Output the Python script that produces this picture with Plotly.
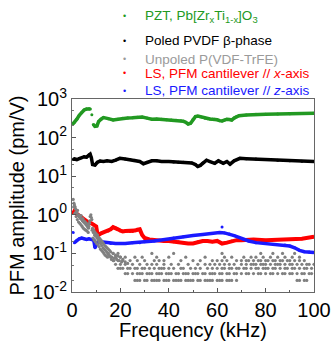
import plotly.graph_objects as go

# ---------------- data ----------------
pzt_f = [0.5, 1, 2, 3, 4, 5, 6, 7, 7.6, None, 8.2, None, 8.8, 9.5, 10.3, 11, 12, 13, 15, 17, 19, 21, 23, 25,
         27, 29, 31, 33, 35, 37, 39, 41, 43, 45, 46, 47, 48, 49, 50, 51, 52, 53, 54, 55, 56, 57, 58, 59,
         60, 61, 62, 63, 64, 65, 66, 67, 68, 69, 72, 76, 80, 85, 90, 95, 100]
pzt_v = [230, 250, 300, 380, 450, 520, 550, 560, 550, None, 390, None, 220, 195, 200, 260, 300, 330, 310, 285, 300, 315, 320, 325,
         335, 340, 320, 300, 305, 300, 290, 285, 280, 275, 265, 250, 225, 235, 300, 350, 360, 345, 330, 316, 310, 305, 300, 300,
         290, 275, 270, 285, 300, 295, 285, 320, 350, 370, 385, 400, 405, 410, 412, 418, 425]

pvdf_f = [0.5, 1, 2, 3, 4, 5, 6, 7, 7.5, 8, 8.5, 9.5, 10.5, 11.6, 13, 14.5, 16.4, 18, 19.8, 22, 24, 26, 28, 29.5,
          31, 33, 35, 37, 40, 42, 44, 46, 48, 49.5, 51, 52, 53, 54, 55.6, 57, 59, 60.5, 62.5, 64, 65.3, 67,
          69.4, 72, 76, 80, 85, 90, 95, 100]
pvdf_v = [27, 28, 27, 29, 30, 32, 31, 36, 37, 30, 20, 19.5, 23, 24.7, 24, 25, 24, 26, 29, 28, 27, 26, 24, 21,
          23, 25, 25, 24, 24, 23.5, 23, 23, 22.5, 22, 20, 17.8, 19, 22, 26, 24, 21.6, 25, 21.6, 24, 20.5, 25,
          29, 28.5, 28, 27, 26, 25, 24.5, 24]

unpoled_f = [0.5, 0.7, 0.8, 1.0, 1.2, 1.3, 1.5, 1.7, 1.8, 2.0, 2.2, 2.3, 2.5, 2.7, 2.8, 3.0, 3.2, 3.3, 3.5, 3.7,
             3.8, 4.0, 4.2, 4.3, 4.5, 4.7, 4.8, 5.0, 5.2, 5.3, 5.5, 5.7, 5.8, 6.0, 6.2, 6.3, 6.5, 6.7, 6.8, 7.0,
             7.2, 7.3, 7.5, 7.8, 8.0, 8.2, 8.3, 8.5, 8.7, 8.8, 9.0, 9.2, 9.3, 9.5, 9.7, 9.8, 10.0, 10.2, 10.3,
             10.5, 10.7, 10.8, 11.0, 11.2, 11.3, 11.5, 11.7, 11.8, 12.0, 12.2, 12.3, 12.5, 12.7, 12.8, 13.0,
             13.2, 13.3, 13.5, 13.7, 13.8, 14.0, 14.2, 14.3, 14.5, 14.7, 14.8, 15.0, 15.3, 15.5, 15.8, 16.0,
             16.3, 16.5, 17.0, 17.3, 17.5, 18.0, 18.5, 19.0, 19.5, 20.0, 20.5, 21.0, 22.0, 23.0]
unpoled_v = [2.5, 1.6, 2.0, 1.8, 1.1, 1.6, 1.4, 0.9, 1.2, 1.1, 0.75, 1.3, 0.95, 0.65, 1.0, 0.9, 0.6, 0.85, 0.8, 0.55,
             0.95, 0.75, 0.5, 0.7, 0.8, 0.45, 0.65, 0.7, 0.42, 0.6, 0.65, 0.4, 0.55, 0.6, 0.38, 0.5, 0.55, 0.35, 0.45,
             0.5, 0.6, 0.7, 0.9, 1.0, 0.85, 0.75, 0.4, 0.45, 0.25, 0.35, 0.4, 0.22, 0.3, 0.35, 0.2, 0.28, 0.32, 0.18,
             0.25, 0.3, 0.17, 0.22, 0.26, 0.15, 0.2, 0.24, 0.13, 0.18, 0.22, 0.12, 0.16, 0.2, 0.11, 0.14,
             0.18, 0.1, 0.13, 0.16, 0.09, 0.12, 0.15, 0.085, 0.11, 0.14, 0.08, 0.1, 0.13, 0.09, 0.12, 0.085,
             0.11, 0.07, 0.08, 0.1, 0.065, 0.075, 0.09, 0.07, 0.085, 0.065, 0.08, 0.06, 0.07, 0.06, 0.055]
# quantised noise-floor levels of the unpoled sample (frequencies where a dot sits on each level)
unpoled_lvl_020 = [26, 27, 28, 30, 31, 33, 34, 35, 36, 38, 39, 40, 42, 43, 44, 45, 47, 48, 49, 50, 52, 53, 55, 56,
                   57, 58, 60, 61, 62, 64, 65, 66, 68, 93, 94, 96, 97]
unpoled_lvl_030 = [22, 23, 25, 27, 28, 29, 31, 32, 33, 35, 36, 37, 39, 40, 41, 43, 44, 46, 47, 48, 50, 51, 52, 54,
                   55, 57, 58, 59, 61, 62, 64, 65, 67, 68, 70, 72, 73, 75, 77, 78, 80, 82, 83, 85, 87, 88, 90, 91,
                   93, 95, 96, 98, 99]
unpoled_lvl_041 = [19, 20, 21, 23, 24, 26, 27, 29, 30, 32, 34, 36, 37, 38, 40, 42, 45, 46, 49, 51, 53, 56, 58, 60,
                   62, 63, 65, 66, 68, 69, 71, 72, 74, 76, 77, 79, 80, 81, 83, 84, 86, 88, 89, 91, 92, 94, 96, 97, 99]
unpoled_lvl_052 = [18, 20, 22, 25, 28, 31, 33, 35, 38, 41, 44, 48, 52, 55, 57, 59, 61, 63, 65, 67, 70, 72, 74, 75,
                   76, 78, 79, 80, 82, 84, 85, 86, 88, 90, 91, 93, 95, 97, 98, 100]
unpoled_lvl_065 = [17, 19, 21, 24, 27, 30, 34, 36, 38, 45, 50, 53, 58, 60, 62, 64, 68, 70, 72, 73, 75, 77, 78, 80,
                   81, 83, 84, 86, 87, 89, 90, 92, 94, 96]
unpoled_lvl_080 = [16, 18, 20, 22, 26, 29, 35, 40, 47, 55, 63, 66, 71, 74, 76, 79, 82, 85, 88, 91, 94]
unpoled_lvl_100 = [15, 17, 19, 33, 42, 62, 78, 83, 87, 92]
unpoled_levels = [(unpoled_lvl_020, 0.020), (unpoled_lvl_030, 0.030), (unpoled_lvl_041, 0.041),
                  (unpoled_lvl_052, 0.052), (unpoled_lvl_065, 0.065), (unpoled_lvl_080, 0.080),
                  (unpoled_lvl_100, 0.100)]

lsx_f = [0.5, 1, 2, 3, 4, 5, 6, 7, 8, 9, 10, 10.5, 11, 12, 13, 14, 15, 16, 17, 18, 19, 20, 21, 22, 23, 24, 25, 26,
         27, 28, 29, 30, 32, 34, 36, 38, 40, 42, 44, 46, 48, 50, 52, 54, 56, 58, 60, 62, 64, 66, 68, 70, 75, 80,
         85, 90, 95, 100]
lsx_v = [1.1, 1.25, 1.05, 0.95, 0.85, 0.75, 0.68, 0.62, 0.6, 0.55, 0.5, 0.32, 0.3, 0.33, 0.35, 0.37, 0.38, 0.42,
         0.48, 0.46, 0.42, 0.39, 0.37, 0.38, 0.38, 0.37, 0.37, 0.39, 0.41, 0.42, 0.3, 0.25, 0.23, 0.22, 0.22, 0.21,
         0.21, 0.2, 0.2, 0.19, 0.18, 0.18, 0.2, 0.21, 0.21, 0.2, 0.21, 0.18, 0.19, 0.21, 0.22, 0.22, 0.23, 0.22,
         0.23, 0.23, 0.24, 0.27]

lsz_f = [0.5, None, 1, 2, 3, 4, 5, 6, 7, 8, 9, 9.5, 10.5, 12, 14, 16, 18, 20, 22, 25, 28, 30, 34, 38, 42, 46, 50, 54,
         58, 61, 63, 65, 67, 69, 71, 73, 76, 80, 84, 88, 90, 92, 94, 96, 98, 100, None, 62]
lsz_v = [0.35, None, 0.19, 0.22, 0.24, 0.25, 0.24, 0.23, 0.24, 0.23, 0.22, 0.14, 0.19, 0.2, 0.19, 0.18, 0.18, 0.18,
         0.18, 0.19, 0.19, 0.2, 0.21, 0.23, 0.25, 0.27, 0.29, 0.31, 0.33, 0.35, 0.34, 0.32, 0.29, 0.26, 0.23, 0.21,
         0.19, 0.18, 0.17, 0.165, 0.155, 0.14, 0.12, 0.11, 0.108, 0.105, None, 0.48]

legend_labels = ["PZT, Pb[Zr<sub>x</sub>Ti<sub>1-x</sub>]O<sub>3</sub>",
                 "Poled PVDF β-phase",
                 "Unpoled P(VDF-TrFE)",
                 "LS, PFM cantilever // <i>x</i>-axis",
                 "LS, PFM cantilever // <i>z</i>-axis"]
legend_colors = ["#229922", "#000000", "#9a9a9a", "#ff0000", "#1a1aff"]
x_ticks = [0, 20, 40, 60, 80, 100]
y_ticks = [0.01, 0.1, 1, 10, 100, 1000]
y_ticktext = ["10<sup>-2</sup>", "10<sup>-1</sup>", "10<sup>0</sup>", "10<sup>1</sup>", "10<sup>2</sup>",
              "10<sup>3</sup>"]

# ---------------- figure ----------------
FONT = "Liberation Sans, Arial, sans-serif"
fig = go.Figure()

def line_trace(xs, ys, color, width):
    fig.add_trace(go.Scatter(x=xs, y=ys, mode="lines+markers", line=dict(color=color, width=width),
                             marker=dict(color=color, size=3), connectgaps=False, showlegend=False,
                             hoverinfo="skip"))

line_trace(pzt_f, pzt_v, "#229922", 3.5)
line_trace(pvdf_f, pvdf_v, "#000000", 3.5)
line_trace(lsx_f, lsx_v, "#ff0000", 4)
line_trace(lsz_f, lsz_v, "#1a1aff", 3.5)

gx = list(unpoled_f)
gy = list(unpoled_v)
for fs, lv in unpoled_levels:
    gx += fs
    gy += [lv] * len(fs)
fig.add_trace(go.Scatter(x=gx, y=gy, mode="markers", marker=dict(color="#808080", size=3.2),
                         showlegend=False, hoverinfo="skip"))

# legend as annotations
leg_y = [1.430, 1.302, 1.207, 1.133, 1.043]
for lab, col, yy in zip(legend_labels, legend_colors, leg_y):
    fig.add_annotation(x=0.215, y=yy, xref="paper", yref="paper", text="•", showarrow=False,
                       font=dict(size=9, color=col, family=FONT), xanchor="center", yanchor="middle")
    fig.add_annotation(x=0.293, y=yy, xref="paper", yref="paper", text=lab, showarrow=False,
                       font=dict(size=13.5, color=col, family=FONT), xanchor="left", yanchor="middle")

fig.update_layout(
    width=333, height=341,
    margin=dict(l=72, r=19, t=99, b=49, autoexpand=False),
    paper_bgcolor="white", plot_bgcolor="white",
    font=dict(family=FONT, color="black", size=20),
)
fig.update_xaxes(range=[0, 100], tickvals=x_ticks, ticks="inside", ticklen=4, tickcolor="#555",
                 showline=True, linecolor="#666", linewidth=1, mirror=True, showgrid=False, zeroline=False,
                 minor=dict(dtick=10, ticks="inside", ticklen=2, tickcolor="#555"),
                 title=dict(text="Frequency (kHz)", font=dict(size=20), standoff=6),
                 tickfont=dict(size=20), automargin=False)
fig.update_yaxes(type="log", range=[-2, 3], tickvals=y_ticks, ticktext=y_ticktext, ticks="inside", ticklen=4,
                 tickcolor="#555", showline=True, linecolor="#666", linewidth=1, mirror=True, showgrid=False,
                 zeroline=False, minor=dict(ticks="inside", ticklen=2, tickcolor="#777"),
                 title=dict(text="PFM amplitude (pm/V)", font=dict(size=20), standoff=2),
                 tickfont=dict(size=20), automargin=False)

fig.write_html("out.html", config={"displayModeBar": False},
               post_script="document.body.style.margin='0';document.body.style.padding='0';")
